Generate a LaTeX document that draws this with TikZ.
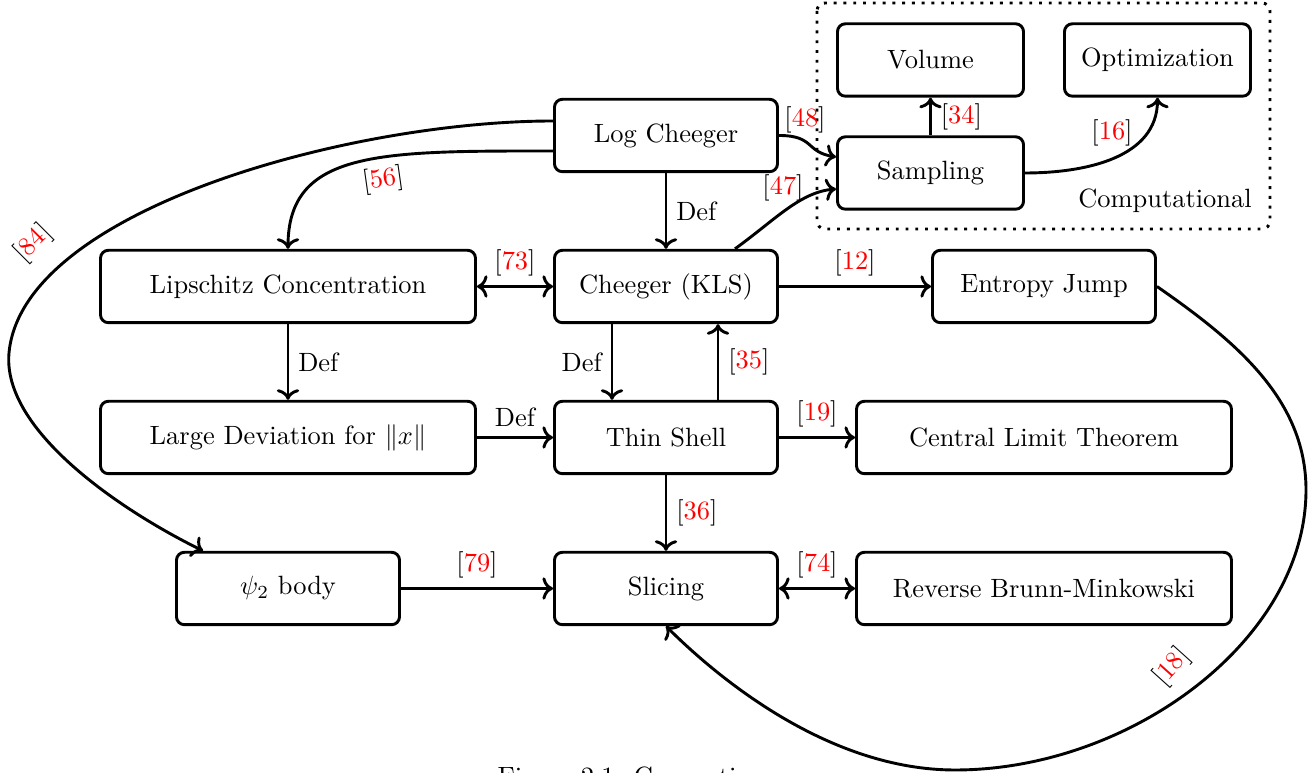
\documentclass[tikz,border=0pt]{standalone}
\usetikzlibrary{calc,arrows.meta}
\newcommand{\citeref}[1]{[\textcolor{red}{#1}]}
\begin{document}
\begin{tikzpicture}[x=0.3784pt,y=-0.3784pt,
  box/.style={draw, line width=1.1pt, rounded corners=3pt, minimum height=27.4pt, minimum width=84.4pt, inner sep=2pt},
  wbox/.style={box, minimum width=141.9pt},
  sbox/.style={box, minimum width=70.4pt},
  conn/.style={line width=1.1pt, ->},
  dconn/.style={line width=1.1pt, <->},
  frame/.style={line width=1.1pt, dash pattern=on 1.1pt off 2.6pt, rounded corners=3pt}]
\useasboundingbox (0,0) rectangle (1313,773);
% computational frame
\draw[frame] (817,3) rectangle (1270,229);
\node (comp) at (1165,201) {Computational};
% nodes
\node[box] (lc) at (666,135.5) {Log Cheeger};
\node[sbox] (vol) at (930.5,60) {Volume};
\node[sbox] (opt) at (1157.5,60) {Optimization};
\node[sbox] (samp) at (930.5,173) {Sampling};
\node[wbox] (lip) at (288,286.5) {Lipschitz Concentration};
\node[box] (kls) at (666,286.5) {Cheeger (KLS)};
\node[box] (ej) at (1044,286.5) {Entropy Jump};
\node[wbox] (ld) at (288,437.5) {Large Deviation for $\|x\|$};
\node[box] (ts) at (666,437.5) {Thin Shell};
\node[wbox] (clt) at (1044,437.5) {Central Limit Theorem};
\node[box] (psi) at (288,588.5) {$\psi_2$ body};
\node[box] (sl) at (666,588.5) {Slicing};
\node[wbox] (rbm) at (1044,588.5) {Reverse Brunn-Minkowski};
% straight connectors
\draw[conn] (lc) -- node[right] (d1) {Def} (kls);
\draw[dconn] (lip) -- node[above] (r73) {\citeref{73}} (kls);
\draw[conn] (kls) -- node[above] (r12) {\citeref{12}} (ej);
\draw[conn] (lip) -- node[right] (d2) {Def} (ld);
\draw[conn] (ld) -- node[above] (d3) {Def} (ts);
\draw[conn] (ts) -- node[above] (r19) {\citeref{19}} (clt);
\draw[conn] (ts) -- node[right] (r36) {\citeref{36}} (sl);
\draw[conn] (psi) -- node[above] (r79) {\citeref{79}} (sl);
\draw[dconn] (sl) -- node[above] (r74) {\citeref{74}} (rbm);
\draw[conn] ($(kls.south)+(-54,0)$) -- node[left] (d4) {Def} ($(ts.north)+(-54,0)$);
\draw[conn] ($(ts.north)+(52,0)$) -- node[right] (r35) {\citeref{35}} ($(kls.south)+(52,0)$);
\draw[conn] (samp) -- node[right] (r34) {\citeref{34}} (vol);
% curved connectors
\draw[conn] (lc.east) .. controls (815,135.5) and (805,152) .. ($(samp.west)+(0,-16)$);
\draw[conn] ($(kls.north)+(69,0)$) .. controls (775,220) and (800,192) .. ($(samp.west)+(0,16)$);
\draw[conn] (samp.east) .. controls (1085,173) and (1157.5,158) .. (opt.south);
\draw[conn] ($(lc.west)+(0,15.5)$) .. controls (380,151) and (288,150) .. (lip.north);
\draw[conn] ($(lc.west)+(0,-14.5)$) .. controls (350,121) and (22,210) .. (9,353)
   .. controls (2,430) and (120,510) .. ($(psi.north west)+(28,0)$);
\draw[conn] (ej.east) .. controls (1237,342) and (1306,400) .. (1306,490)
   .. controls (1306,640) and (1130,770) .. (955,770)
   .. controls (830,770) and (720,680) .. (sl.south);
% curve labels
\node (r48) at (805,120) {\citeref{48}};
\node (r47) at (783,188) {\citeref{47}};
\node (r16) at (1112,133) {\citeref{16}};
\node[rotate=8] (r56) at (383,180) {\citeref{56}};
\node[rotate=45] (r84) at (33,243) {\citeref{84}};
\node[rotate=48] (r18) at (1172,667) {\citeref{18}};
% caption (cut by the page edge)
\node[anchor=base west, inner sep=0pt] (cap) at (497,786) {Figure 2.1: Connections};
\end{tikzpicture}
\end{document}
